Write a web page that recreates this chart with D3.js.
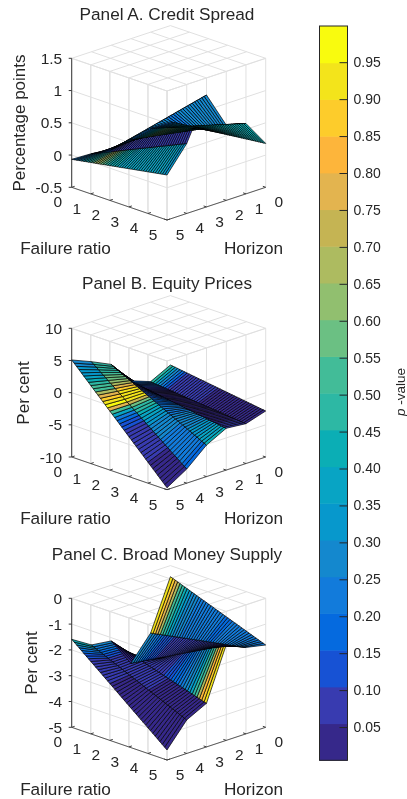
<!DOCTYPE html>
<html><head><meta charset="utf-8">
<script src="https://cdnjs.cloudflare.com/ajax/libs/d3/7.8.5/d3.min.js"></script>
<style>html,body{margin:0;padding:0;background:#fff}svg{display:block;filter:blur(0.35px)}text{font-family:"Liberation Sans",Arial,sans-serif;fill:#262626}</style>
</head><body><svg id="c" width="407" height="799"></svg>
<script>
// axis categories
const failureTicks=[0,1,2,3,4,5];
const horizonTicks=[0,1,2,3,4,5];
// panel titles / labels
const titles=["Panel A. Credit Spread","Panel B. Equity Prices","Panel C. Broad Money Supply"];
const zLabels=["Percentage points","Per cent","Per cent"];
const zTicksA=[-0.5,0,0.5,1,1.5], zTickTextA=["-0.5","0","0.5","1","1.5"];
const zTicksB=[-10,-5,0,5,10], zTickTextB=["-10","-5","0","5","10"];
const zTicksC=[-5,-4,-3,-2,-1,0], zTickTextC=["-5","-4","-3","-2","-1","0"];
// surface height at each horizon h=0..5, on the edges failure=0 and failure=5
const zA_f0=[0.01,0.01,-0.06,-0.12,-0.08,-0.066], zA_f5=[0.18,0.59,0.668,1.235,0.585,0.198];
const zB_f0=[-0.78,-2.35,-1.2,2.36,3.8,5.08], zB_f5=[-2.85,-3.8,-3.5,-5.1,-7.8,-9.7];
const zC_f0=[-0.43,-2.36,-3.28,-2.16,-2.06,-1.59], zC_f5=[-1.81,-1.65,-1.30,-3.31,-3.70,-4.61];
// p-value along failure ratio for each horizon strip (h..h+1): knots and values
const pA_f=[[0,1,2,3,5],[0,1,3,5],[0,1,3,5],[0,.6,1,2,5],[0,1,1.25,2,3,5]];
const pA_p=[[.2,.45,.45,.45,.42],[.2,.6,.42,.4],[.2,.3,.25,.27],[.12,.3,.08,.07,.07],[.2,.5,.7,.42,.38,.35]];
const pB_f=[[0,.4,1,5],[0,1,3,5],[0,1,2,3,4,5],[0,.5,1,1.2,1.4,1.8,2.1,3,4,5],[0,.6,1.2,1.45,1.6,1.85,2.05,2.3,2.6,3,5]];
const pB_p=[[.5,.3,.07,.03],[.2,.05,.04,.06],[.04,.05,.15,.25,.3,.42],[.45,.5,.65,.8,.92,.95,.5,.3,.22,.2],[.28,.35,.55,.8,.93,.97,.55,.25,.12,.07,.04]];
const pC_f=[[0,.3,.6,1,1.5,3,5],[0,.5,1,2,5],[0,2.5,3,3.5,4,4.4,4.7,5],[0,.5,1,5],[0,.5,1,5]];
const pC_p=[[.97,.8,.5,.33,.25,.2,.24],[.3,.2,.12,.07,.07],[.05,.07,.13,.2,.3,.5,.85,.95],[.3,.17,.07,.04],[.45,.2,.06,.04]];
// colorbar
const cbColors=["#36288a","#383bb0","#1752d4","#056adf","#127bdb","#1488ce","#0798cc","#08a4c4","#0baeb5","#2db8a4","#42bc98","#6bc083","#91bf6f","#adbb60","#c5b453","#e3b44f","#fdb53b","#fdcc2b","#f3e41b","#f9fb0e"];
const cbTicks=[.05,.1,.15,.2,.25,.3,.35,.4,.45,.5,.55,.6,.65,.7,.75,.8,.85,.9,.95];
const cbDomain=[0.005,0.999];

const svg=d3.select("#c");
const color=d3.scaleQuantize().domain(cbDomain).range(cbColors);
const xF=d3.scaleLinear([0,5],[71.7,167]), xH=d3.scaleLinear([5,0],[0,98.7]);
const yF=d3.scaleLinear([0,5],[0,32.7]), yH=d3.scaleLinear([5,0],[0,-32.7]);
const GRID="#e0e0e0",DARK="#3a3a3a";
const panels=[
 {zd:[-.5,1.5],r:[187.3,58.3],zt:zTicksA,ztt:zTickTextA,z0:zA_f0,z5:zA_f5,pf:pA_f,pp:pA_p,ty:20,ly:123,lx:19,ay:254},
 {zd:[-10,10],r:[457,328.3],zt:zTicksB,ztt:zTickTextB,z0:zB_f0,z5:zB_f5,pf:pB_f,pp:pB_p,ty:289,ly:393,lx:22.7,ay:524},
 {zd:[-5,0],r:[727.3,598.3],zt:zTicksC,ztt:zTickTextC,z0:zC_f0,z5:zC_f5,pf:pC_f,pp:pC_p,ty:560,ly:663,lx:31,ay:795}
];
panels.forEach((P,i)=>{
 const zY=d3.scaleLinear(P.zd,P.r);
 const pr=(f,h,z)=>[xF(f)+xH(h),zY(z)+yF(f)+yH(h)];
 const g=svg.append("g");
 const zMin=P.zd[0],zMax=P.zd[1];
 const seg=(a,b,c,w)=>g.append("line").attr("x1",a[0]).attr("y1",a[1]).attr("x2",b[0]).attr("y2",b[1]).attr("stroke",c).attr("stroke-width",w||1);
 // ceiling, walls
 failureTicks.forEach(f=>{seg(pr(f,0,zMax),pr(f,5,zMax),GRID);seg(pr(f,5,zMin),pr(f,5,zMax),GRID);});
 horizonTicks.forEach(h=>{seg(pr(0,h,zMax),pr(5,h,zMax),GRID);seg(pr(5,h,zMin),pr(5,h,zMax),GRID);});
 failureTicks.forEach(f=>seg(pr(f,5,zMin),pr(f,5,zMax),GRID));
 P.zt.forEach(z=>{seg(pr(0,5,z),pr(5,5,z),GRID);seg(pr(5,5,z),pr(5,0,z),GRID);});
 // axes
 seg(pr(0,5,zMin),pr(0,5,zMax),DARK);
 seg(pr(0,5,zMin),pr(5,5,zMin),"#5a5a5a");
 seg(pr(5,5,zMin),pr(5,0,zMin),"#5a5a5a");
 P.zt.forEach((z,k)=>{
   const a=pr(0,5,z);
   seg(a,[a[0]-3,a[1]],DARK);
   g.append("text").attr("x",a[0]-9.5).attr("y",a[1]+5.5).attr("text-anchor","end").attr("font-size",15.5).text(P.ztt[k]);
 });
 failureTicks.forEach(f=>{
   const a=pr(f,5,zMin); seg(a,pr(f,4.85,zMin),DARK);
   g.append("text").attr("x",a[0]-14).attr("y",a[1]+20).attr("text-anchor","middle").attr("font-size",15.5).text(f);
 });
 horizonTicks.forEach(h=>{
   const a=pr(5,h,zMin); seg(a,pr(4.85,h,zMin),DARK);
   g.append("text").attr("x",a[0]+13).attr("y",a[1]+20).attr("text-anchor","middle").attr("font-size",15.5).text(h);
 });
 // surface
 const depth=(f,h,z)=>0.664*(f/5+h/5)+0.342*(z-zMin)/(zMax-zMin);
 const quads=[];
 const zAt=(f,h)=>d3.scaleLinear([0,5],[P.z0[h],P.z5[h]])(f);
 const N=40;
 for(let s=0;s<5;s++){
  const pScale=d3.scaleLinear(P.pf[s],P.pp[s]);
  for(let n=0;n<N;n++){
   const f0=n*5/N,f1=(n+1)*5/N;
   const c=[[f0,s],[f1,s],[f1,s+1],[f0,s+1]].map(d=>[d[0],d[1],zAt(d[0],d[1])]);
   quads.push({pts:c.map(d=>pr(d[0],d[1],d[2])),p:pScale((f0+f1)/2),d:d3.mean(c,d=>depth(d[0],d[1],d[2]))});
  }
 }
 quads.sort((a,b)=>b.d-a.d);
 g.append("g").selectAll("polygon").data(quads).join("polygon")
  .attr("points",d=>d.pts.join(" ")).attr("fill",d=>color(d.p))
  .attr("stroke","#000").attr("stroke-width",.7).attr("stroke-linejoin","round");
 g.append("text").attr("x",167).attr("y",P.ty).attr("text-anchor","middle").attr("font-size",17.2).text(titles[i]);
 g.append("text").attr("transform",`translate(${P.lx+6},${P.ly}) rotate(-90)`).attr("text-anchor","middle").attr("font-size",17).text(zLabels[i]);
 g.append("text").attr("x",65.5).attr("y",P.ay).attr("text-anchor","middle").attr("font-size",17.2).text("Failure ratio");
 g.append("text").attr("x",253.5).attr("y",P.ay).attr("text-anchor","middle").attr("font-size",17.2).text("Horizon");
});
// colorbar
const cbY=d3.scaleLinear(cbDomain,[760.3,26]);
const cbx=319.5,cbw=28;
const cb=svg.append("g");
const step=(cbDomain[1]-cbDomain[0])/cbColors.length;
cb.selectAll("rect").data(cbColors).join("rect")
 .attr("x",cbx).attr("width",cbw)
 .attr("y",(d,i)=>cbY(cbDomain[0]+step*(i+1)))
 .attr("height",(d,i)=>cbY(cbDomain[0]+step*i)-cbY(cbDomain[0]+step*(i+1))+.5)
 .attr("fill",d=>d);
cb.append("rect").attr("x",cbx).attr("y",26).attr("width",cbw).attr("height",734.3).attr("fill","none").attr("stroke","#262626").attr("stroke-width",1);
const axisG=cb.append("g").attr("transform",`translate(${cbx+cbw},0)`)
 .call(d3.axisRight(cbY).tickValues(cbTicks).tickSize(-8).tickPadding(6).tickFormat(d3.format(".2f")));
axisG.select(".domain").remove();
axisG.selectAll("line").attr("stroke","#262626");
axisG.selectAll("text").attr("font-size",14).attr("font-family",'"Liberation Sans",Arial,sans-serif').attr("fill","#262626");
const pl=svg.append("text").attr("transform","translate(405,392) rotate(-90)").attr("text-anchor","middle").attr("font-size",13.5);
pl.append("tspan").attr("font-style","italic").text("p");
pl.append("tspan").text(" -value");
</script></body></html>
